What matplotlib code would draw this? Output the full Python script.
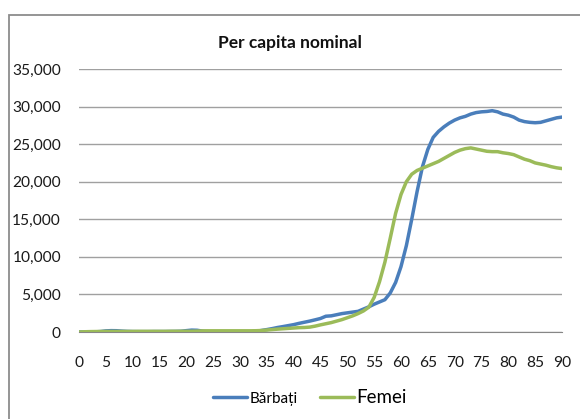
import matplotlib
matplotlib.use("Agg")
import matplotlib.pyplot as plt
from matplotlib.patches import Rectangle
import numpy as np

plt.rcParams.update({
    "font.family": ["Lato", "DejaVu Sans"],
    "font.size": 11,
})

# age 0..90
ages = list(range(91))

barbati = [
    0, 0, 0, 20, 60, 150, 180, 170, 120, 80,
    60, 50, 50, 50, 60, 60, 60, 70, 80, 100,
    180, 250, 230, 120, 40, 20, 10, 10, 10, 10,
    10, 20, 30, 80, 200, 320, 450, 600, 720, 850,
    980, 1150, 1300, 1450, 1620, 1800, 2100, 2150, 2300, 2450,
    2550, 2650, 2750, 3050, 3350, 3700, 4000, 4300, 5200, 6600,
    8700, 11500, 15000, 18700, 22000, 24300, 25900, 26700, 27300, 27800,
    28200, 28500, 28700, 29000, 29200, 29300, 29350, 29450, 29300, 29000,
    28850, 28600, 28200, 28000, 27900, 27850, 27900, 28100, 28300, 28500,
    28600,
]

femei = [
    0, 30, 50, 60, 70, 80, 80, 80, 80, 80,
    80, 90, 90, 90, 90, 90, 90, 100, 100, 100,
    100, 100, 120, 150, 160, 160, 160, 160, 160, 160,
    160, 160, 160, 170, 200, 260, 320, 380, 430, 480,
    530, 580, 600, 650, 780, 950, 1100, 1250, 1450, 1650,
    1900, 2150, 2450, 2800, 3300, 4600, 6700, 9300, 12500, 15800,
    18300, 20000, 21000, 21500, 21800, 22100, 22400, 22700, 23100, 23500,
    23900, 24200, 24400, 24500, 24350, 24200, 24050, 24000, 24000, 23850,
    23750, 23600, 23300, 23000, 22800, 22500, 22350, 22200, 22000, 21850,
    21750,
]

series_names = ["Bărbați", "Femei"]
colors = ["#4a7ebb", "#9bbb59"]

W, H = 580, 419
fig = plt.figure(figsize=(W / 100, H / 100), dpi=100)
ax = fig.add_axes([79 / W, 1 - 332 / H, 483 / W, 263 / H])

ax.plot(ages, barbati, color=colors[0], lw=2.5, label=series_names[0],
        solid_capstyle="round", zorder=3)
ax.plot(ages, femei, color=colors[1], lw=2.5, label=series_names[1],
        solid_capstyle="round", zorder=4)

ax.set_xlim(0, 90)
ax.set_ylim(0, 35000)
ax.set_xticks(np.arange(0, 91, 5))
ax.set_yticks(np.arange(0, 35001, 5000))
ax.yaxis.set_major_formatter(matplotlib.ticker.FuncFormatter(lambda v, p: f"{int(v):,}"))
ax.grid(axis="y", color="#a0a0a0", lw=1)
ax.set_axisbelow(True)
for s in ["top", "right", "left"]:
    ax.spines[s].set_visible(False)
ax.spines["bottom"].set_color("#868686")
ax.tick_params(axis="both", length=0, labelsize=11.2, colors="#1a1a1a")
ax.tick_params(axis="y", pad=13)
ax.tick_params(axis="x", pad=17)

fig.text(290 / W, 1 - 43 / H, "Per capita nominal", ha="center", va="center",
         fontsize=12.5, fontweight="bold", color="#111111")

leg = fig.legend(loc="center", bbox_to_anchor=(310 / W, 1 - 397 / H), ncol=2,
                 frameon=False, handlelength=2.2, handletextpad=0.15,
                 columnspacing=1.5, fontsize=11)
leg.get_texts()[1].set_fontsize(13.5)

# outer chart frame (runs off right and bottom edges)
top = 1 - 15 / H
fig.patches.append(Rectangle((9 / W, -0.2), 1.2, top + 0.2,
                             transform=fig.transFigure, fill=False,
                             edgecolor="#8c8c8c", lw=1.3, clip_on=False))

fig.savefig("out.png", dpi=100)
